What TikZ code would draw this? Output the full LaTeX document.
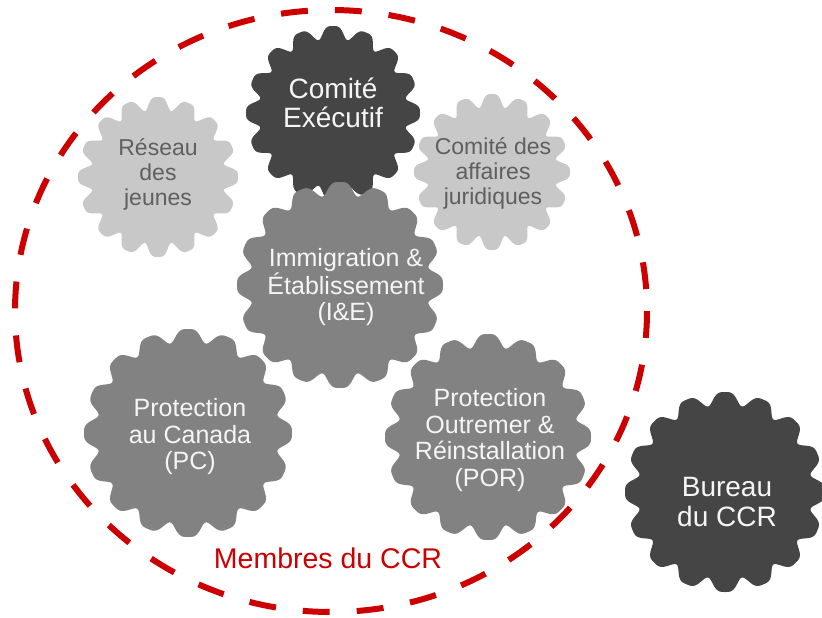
\documentclass[tikz,border=0pt]{standalone}
\usepackage{fontspec}
\setmainfont{Liberation Sans}
\definecolor{gearlight}{RGB}{200,200,200}
\definecolor{gearmid}{RGB}{130,130,130}
\definecolor{geardark}{RGB}{69,69,69}
\definecolor{txtdark}{RGB}{95,95,95}
\definecolor{txtlight}{RGB}{245,245,245}
\definecolor{ccrred}{RGB}{204,0,0}
% cog outline: centre x, centre y, outer radius, fill colour
% (broad rounded lobes, narrower valleys)
\newcommand\cogshape[4]{%
  \fill[#4] plot[domain=0:360,samples=481]
    ({#1+(#3-4.8+6.4*cos(16*\x)-1.6*cos(32*\x))*cos(\x)},
     {#2+(#3-4.8+6.4*cos(16*\x)-1.6*cos(32*\x))*sin(\x)}) -- cycle;}
\begin{document}
\begin{tikzpicture}[x=1pt,y=-1pt,
  cogtext/.style={align=center,inner sep=0pt},
  bigtext/.style={cogtext,font=\fontsize{28}{29.5}\selectfont,text=txtlight},
  midtext/.style={cogtext,font=\fontsize{25}{26.5}\selectfont,text=txtlight},
  smalltext/.style={cogtext,font=\fontsize{23}{25}\selectfont,text=txtdark},
  boundary/.style={draw=ccrred,line width=6pt,dash pattern=on 27pt off 27pt}]
\useasboundingbox (0,0) rectangle (822,618);

% cogs, back to front
\cogshape{158}{177}{80}{gearlight}
\cogshape{492}{172}{78}{gearlight}
\cogshape{333}{113}{87}{geardark}
\cogshape{340}{285}{103}{gearmid}
\cogshape{188}{433}{104}{gearmid}
\cogshape{488}{437}{103}{gearmid}
\cogshape{725}{492}{100}{geardark}

% labels
\node[smalltext] (rj) at (158,174) {Réseau\\des\\jeunes};
\node[smalltext] (caj) at (493,173) {Comité des\\affaires\\juridiques};
\node[bigtext] (ce) at (333,103) {Comité\\Exécutif};
\node[midtext] (ie) at (346,287) {Immigration \&\\Établissement\\(I\&E)};
\node[midtext] (pc) at (190,437) {Protection\\au Canada\\(PC)};
\node[midtext] (por) at (490,440) {Protection\\Outremer \&\\Réinstallation\\(POR)};
\node[bigtext] (bur) at (727,502) {Bureau\\du CCR};

% membership boundary
\draw[boundary] (331,311) ellipse [x radius=316, y radius=301];
\node[text=ccrred,font=\fontsize{28.5}{30}\selectfont,inner sep=0pt] (mem) at (328,558) {Membres du CCR};
\end{tikzpicture}
\end{document}
